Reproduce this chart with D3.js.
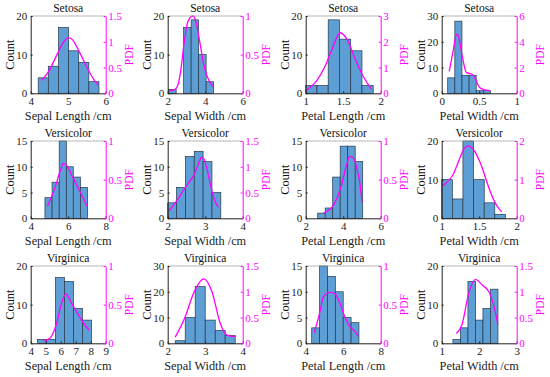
<!DOCTYPE html>
<html>
<head>
<meta charset="utf-8">
<script src="https://d3js.org/d3.v7.min.js"></script>
<style>
  body { margin: 0; background: #fff; }
  text { font-family: "Liberation Serif", "Times New Roman", serif; }
</style>
</head>
<body>
<script>
// species (rows) and measurements (columns)
const species = ["Setosa", "Versicolor", "Virginica"];
const features = ["Sepal Length /cm", "Sepal Width /cm", "Petal Length /cm", "Petal Width /cm"];

// histogram bin edges
const binEdges = [
  [[4.2,4.47,4.74,5.01,5.28,5.55,5.82], [2.05,2.45,2.85,3.25,3.65,4.05,4.45], [1.0,1.15,1.3,1.45,1.6,1.75,1.9], [0.08,0.175,0.27,0.365,0.46,0.555,0.65]],
  [[4.76,5.14,5.52,5.9,6.27,6.65,7.03], [2.0,2.236,2.472,2.708,2.944,3.18,3.416], [2.64,3.04,3.44,3.84,4.24,4.64,5.04], [1.0,1.142,1.283,1.425,1.567,1.708,1.85]],
  [[4.45,5.05,5.65,6.25,6.85,7.45,8.05], [2.2,2.467,2.733,3.0,3.267,3.533,3.8], [4.32,4.74,5.16,5.58,6.0,6.42,6.84], [1.3,1.5,1.7,1.9,2.1,2.3,2.5]]
];
// bin counts
const counts = [
  [[4,7,17,11,8,3], [1,0,17,19,10,3], [2,2,19,14,11,2], [6,28,7,7,1,1]],
  [[4,7,15,10,8,6], [3,6,12,13,11,5], [1,2,8,14,14,11], [10,5,20,10,4,1]],
  [[1,1,17,16,9,6], [1,10,22,9,5,3], [3,15,13,10,5,4], [1,4,16,6,9,14]]
];
// density curve points
const pdfX = [
  [[4.3,4.5,4.7,4.9,5.0,5.1,5.3,5.5,5.7,5.8], [2.05,2.3,2.5,2.7,2.85,3.0,3.2,3.35,3.5,3.7,3.9,4.1,4.4], [1.0,1.15,1.25,1.35,1.46,1.55,1.65,1.75,1.88], [0.1,0.15,0.2,0.22,0.27,0.33,0.4,0.45,0.5,0.55,0.65]],
  [[4.9,5.3,5.6,5.75,5.9,6.2,6.6,7.0], [2.03,2.2,2.4,2.55,2.7,2.8,2.9,2.95,3.05,3.15,3.25,3.35], [2.94,3.2,3.42,3.65,3.91,4.18,4.35,4.5,4.62,4.75,4.88,5.0], [1.0,1.05,1.1,1.15,1.2,1.25,1.3,1.35,1.4,1.45,1.5,1.55,1.6,1.65,1.7,1.75,1.8]],
  [[4.84,5.28,5.73,6.06,6.35,6.72,7.27,7.6,7.9], [2.2,2.47,2.69,2.96,3.18,3.4,3.58,3.8], [4.46,4.76,4.94,5.3,5.56,5.82,6.09,6.35,6.7,6.8], [1.39,1.54,1.72,1.9,2.08,2.26,2.37,2.5]]
];
const pdfY = [
  [[0.25,0.45,0.75,1.02,1.08,1.05,0.8,0.5,0.25,0.16], [0.03,0.04,0.08,0.3,0.6,0.85,0.98,1.0,0.93,0.68,0.4,0.22,0.09], [0.1,0.5,1.0,1.7,2.35,2.1,1.4,0.75,0.15], [1.7,3.2,4.6,4.5,3.0,1.6,1.5,1.1,0.5,0.3,0.2]],
  [[0.16,0.4,0.63,0.71,0.69,0.55,0.36,0.16], [0.14,0.3,0.52,0.68,0.84,1.02,1.18,1.17,0.95,0.62,0.35,0.21], [0.065,0.1,0.15,0.25,0.43,0.69,0.8,0.79,0.74,0.62,0.47,0.21], [0.82,0.9,1.0,1.12,1.35,1.6,1.8,1.87,1.83,1.7,1.5,1.25,0.95,0.68,0.45,0.28,0.17]],
  [[0.03,0.065,0.26,0.52,0.64,0.52,0.34,0.24,0.17], [0.12,0.52,0.97,1.25,1.0,0.39,0.16,0.13], [0.14,0.41,0.6,0.66,0.64,0.52,0.34,0.22,0.13,0.09], [0.19,0.36,0.97,1.24,1.13,1.0,0.78,0.36]]
];
// axis ranges and ticks
const xTicks = [
  [[4,5,6], [2,4,6], [1,1.5,2], [0,0.5,1]],
  [[4,6,8], [2,3,4], [2,4,6], [1,1.5,2]],
  [[4,5,6,7,8,9], [2,3,4], [4,6,8], [1,2,3]]
];
const countTicks = [
  [[0,10,20], [0,10,20], [0,10,20], [0,10,20,30]],
  [[0,5,10,15], [0,5,10,15], [0,5,10,15], [0,10,20]],
  [[0,10,20], [0,10,20,30], [0,5,10,15], [0,10,20]]
];
const pdfTicks = [
  [[0,0.5,1,1.5], [0,0.5,1], [0,1,2,3], [0,2,4,6]],
  [[0,0.5,1], [0,0.5,1,1.5], [0,0.5,1], [0,1,2]],
  [[0,0.5,1], [0,0.5,1,1.5], [0,0.5,1], [0,0.5,1,1.5]]
];

const width = 550, height = 377;
const colLeft = [30.7, 167.7, 305.7, 441.7];
const rowTop = [16, 141, 266];
const pw = 75, ph = 77.3;
const magenta = "#ff00ff";
const fmt = d3.format("~g");
const serif = '"Liberation Serif", "Times New Roman", serif';

const svg = d3.select("body").append("svg")
  .attr("width", width).attr("height", height);

species.forEach((sp, r) => {
  features.forEach((feat, c) => {
    const g = svg.append("g").attr("transform", `translate(${colLeft[c]},${rowTop[r]})`);
    const xt = xTicks[r][c], ct = countTicks[r][c], pt = pdfTicks[r][c];
    const x = d3.scaleLinear().domain([xt[0], xt[xt.length - 1]]).range([0, pw]);
    const y = d3.scaleLinear().domain([0, ct[ct.length - 1]]).range([ph, 0]);
    const y2 = d3.scaleLinear().domain([0, pt[pt.length - 1]]).range([ph, 0]);

    // bars
    const edges = binEdges[r][c];
    g.selectAll("rect.bar")
      .data(counts[r][c].map((v, i) => ({ x0: edges[i], x1: edges[i + 1], v })).filter(d => d.v > 0))
      .join("rect")
      .attr("class", "bar")
      .attr("x", d => x(d.x0))
      .attr("width", d => x(d.x1) - x(d.x0))
      .attr("y", d => y(d.v))
      .attr("height", d => ph - y(d.v))
      .attr("fill", "#5d9fd4")
      .attr("stroke", "#24384a")
      .attr("stroke-width", 0.7);

    // pdf curve
    const pts = pdfX[r][c].map((v, i) => [v, pdfY[r][c][i]]);
    g.append("path")
      .datum(pts)
      .attr("fill", "none")
      .attr("stroke", magenta)
      .attr("stroke-width", 1.3)
      .attr("d", d3.line().x(d => x(d[0])).y(d => y2(d[1])).curve(d3.curveMonotoneX));

    // top box edge
    g.append("line").attr("x1", 0).attr("x2", pw).attr("y1", 0).attr("y2", 0)
      .attr("stroke", "#999").attr("stroke-width", 0.7);

    // axes
    const xa = g.append("g").attr("transform", `translate(0,${ph})`)
      .call(d3.axisBottom(x).tickValues(xt).tickFormat(fmt).tickSizeInner(-2).tickSizeOuter(0).tickPadding(4));
    const ya = g.append("g")
      .call(d3.axisLeft(y).tickValues(ct).tickFormat(fmt).tickSizeInner(-2).tickSizeOuter(0).tickPadding(3.5));
    const ya2 = g.append("g").attr("transform", `translate(${pw},0)`)
      .call(d3.axisRight(y2).tickValues(pt).tickFormat(fmt).tickSizeInner(-2).tickSizeOuter(0).tickPadding(2.5));
    [xa, ya].forEach(a => {
      a.attr("font-family", serif);
      a.select(".domain").attr("stroke", "#222");
      a.selectAll(".tick line").attr("stroke", "#222");
      a.selectAll(".tick text").attr("fill", "#222").style("font-size", "11px");
    });
    ya2.attr("font-family", serif);
    ya2.select(".domain").attr("stroke", magenta);
    ya2.selectAll(".tick line").attr("stroke", magenta);
    ya2.selectAll(".tick text").attr("fill", magenta).style("font-size", "11px");

    // title and labels
    g.append("text").attr("x", pw / 2).attr("y", -4)
      .attr("text-anchor", "middle").style("font-size", "11.5px").attr("fill", "#111")
      .text(sp);
    g.append("text").attr("x", pw / 2).attr("y", ph + 27)
      .attr("text-anchor", "middle").style("font-size", "12.3px").attr("fill", "#222")
      .text(feat);
    g.append("text").attr("transform", `translate(-21,${ph / 2}) rotate(-90)`)
      .attr("text-anchor", "middle").attr("dy", "0.35em").style("font-size", "12.3px").attr("fill", "#111")
      .text("Count");
    g.append("text").attr("transform", `translate(${pw + 23},${ph / 2}) rotate(-90)`)
      .attr("text-anchor", "middle").attr("dy", "0.35em").style("font-size", "11.5px").attr("fill", magenta)
      .text("PDF");
  });
});
</script>
</body>
</html>
